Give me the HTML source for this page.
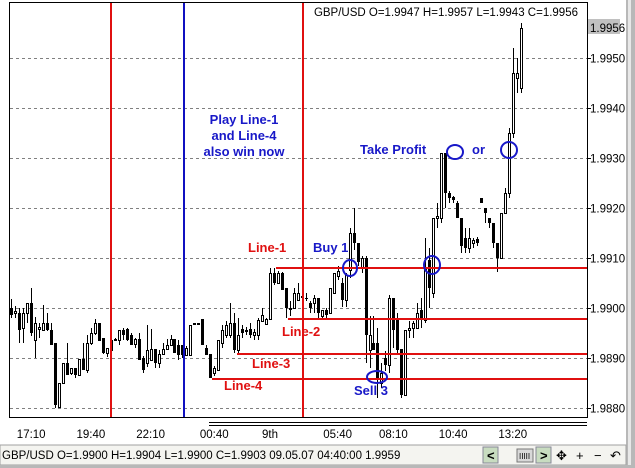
<!DOCTYPE html>
<html><head><meta charset="utf-8"><style>
html,body{margin:0;padding:0;background:#fff;}
body{width:635px;height:468px;overflow:hidden;position:relative;font-family:"Liberation Sans",sans-serif;}
svg{position:absolute;left:0;top:0;}
</style></head><body>
<svg id="chart" width="635" height="468" viewBox="0 0 635 468" xmlns="http://www.w3.org/2000/svg" font-family="Liberation Sans, sans-serif">
<rect x="0" y="0" width="635" height="468" fill="#fff"/>
<g id="grid"></g>
<g id="candles" shape-rendering="crispEdges"></g>
<g id="lines">
<line x1="111" y1="3" x2="111" y2="417" stroke="#e01010" stroke-width="2"/>
<line x1="184" y1="3" x2="184" y2="417" stroke="#1010c0" stroke-width="2"/>
<line x1="303" y1="3" x2="303" y2="417" stroke="#e01010" stroke-width="2"/>
<line x1="276" y1="268" x2="587" y2="268" stroke="#e01010" stroke-width="2"/>
<line x1="288" y1="319" x2="587" y2="319" stroke="#e01010" stroke-width="2"/>
<line x1="237" y1="354" x2="587" y2="354" stroke="#e01010" stroke-width="2"/>
<line x1="212" y1="379" x2="587" y2="379" stroke="#e01010" stroke-width="2"/>
</g>
<g fill="#e01010" font-weight="bold" font-size="13">
<text x="248" y="252">Line-1</text>
<text x="282" y="336">Line-2</text>
<text x="252" y="368">Line-3</text>
<text x="224" y="390">Line-4</text>
</g>
<g fill="#1818c8" font-weight="bold" font-size="13">
<text x="244" y="124" text-anchor="middle">Play Line-1</text>
<text x="244" y="140" text-anchor="middle">and Line-4</text>
<text x="244" y="156" text-anchor="middle">also win now</text>
<text x="360" y="154">Take Profit</text>
<text x="472" y="154">or</text>
<text x="313" y="252">Buy 1</text>
<text x="354" y="395">Sell 3</text>
</g>
<g fill="none" stroke="#1818c8" stroke-width="2">
<ellipse cx="455" cy="152" rx="8" ry="7"/>
<ellipse cx="509" cy="150" rx="8" ry="8"/>
<ellipse cx="350" cy="268" rx="7" ry="8"/>
<ellipse cx="432" cy="265" rx="8" ry="9"/>
<ellipse cx="377" cy="377" rx="10" ry="6"/>
</g>
<g stroke="#000" stroke-width="1" fill="none" shape-rendering="crispEdges">
<line x1="9.5" y1="2" x2="9.5" y2="417"/>
<line x1="9" y1="2.5" x2="587" y2="2.5"/>
<line x1="9" y1="417.5" x2="587" y2="417.5"/>
<line x1="587.5" y1="2" x2="587.5" y2="418"/>
<line x1="209" y1="422.5" x2="587" y2="422.5"/>
<line x1="209" y1="425.5" x2="587" y2="425.5"/>
</g>
<text x="578" y="16" text-anchor="end" font-size="11.5" fill="#000">GBP/USD O=1.9947 H=1.9957 L=1.9943 C=1.9956</text>
<rect x="588" y="19" width="32" height="15" fill="#c0c0c0"/>
<g id="yaxis" font-size="11.5" fill="#000"></g>
<g id="xaxis" font-size="11.5" fill="#000"></g>
<rect x="626" y="0" width="9" height="468" fill="#b8b8b8"/>
<rect x="628" y="0" width="3" height="468" fill="#e8e8e8"/>
<rect x="0" y="445" width="626" height="20" fill="#f4f4f0" stroke="#a0a0a0" stroke-width="1"/>
<rect x="0" y="465" width="635" height="3" fill="#b8b8b8"/>
<text x="2" y="459" font-size="11.5" fill="#000">GBP/USD O=1.9900 H=1.9904 L=1.9900 C=1.9903   09.05.07 04:40:00 1.9959</text>
<g font-size="13" fill="#000">
<rect x="483" y="447" width="15" height="16" fill="#c8dcc0" stroke="#889"/>
<text x="487" y="460" font-weight="bold">&lt;</text>
<rect x="517" y="449" width="16" height="13" fill="#d8d8d8" stroke="#777"/>
<text x="519" y="459" font-size="8">IIIII</text>
<rect x="536" y="447" width="15" height="16" fill="#c8dcc0" stroke="#889"/>
<text x="540" y="460" font-weight="bold">&gt;</text>
<text x="556" y="460">✥</text>
<text x="576" y="460">+</text>
<text x="594" y="460">−</text>
<text x="610" y="460">↶</text>
</g>
</svg>
<script>
const BASE = 1.9900;
const opens = [0,-1,-1,-4,-1,1,-6.4,-4.2,-4.4,-3,-4.4,-7,-19.8,-15,-11,-13,-12,-13.4,-10.2,-12.4,-7,-5,-3,-6,-9,-8.4,-6.4,-6.4,-4.4,-4.2,-5.4,-7.2,-6.2,-10,-11,-10.4,-8.2,-11,-9.2,-8.2,-7.4,-6.2,-7.4,-7.4,-9.4,-9.4,-3.2,-3.2,-2.2,-8,-9.2,-13,-12.4,-7,-5.4,-5.4,-3,-8.4,-4.2,-4.6,-4.2,-5.4,-5.4,-2.6,-3.2,-2.2,7,5,7,4,0,0,1.6,2.2,2,1,1,2,-1.6,-0.4,-1,3,6.4,5,1.6,7.6,15,13,8,10,-8.4,-7,-7,-15,-10,-11.4,2,-2.4,-8.2,-17.4,-4.4,-4,-4,-0.4,-2.4,9.6,3,18,18,31,23,22.2,21,18,14,12,13,13.8,22,20,18,17,13,10,19,23,35,46,44];
const highs = [1.9,0.4,0,0,1,4,-1.8,-3,0.6,-1,-3,-7,-15,-11,-7,-12,-12,-10.2,-7,-5.4,-4,-2.2,-3,-6,-8,-5.4,-6,-4.4,-4,-4,-5,-6,-5,-9.6,-3.4,-4.2,-8.2,-8.4,-7,-6.2,-5.4,-6.2,-6.4,-7.4,-7.6,-3.4,-3,-3,-2.2,-7.4,-9.2,-11.6,-6.4,-3.4,-2.6,1,-1,-2,-3.4,-3.8,-3,-4.2,-2,0,-2,8,8,7.4,7.2,4,1.4,4,5,4,3,1.4,2.6,2,-0.4,0,4,7,8.4,6,7,16,20,13,10.4,10.4,-1.6,-1.6,-4,-11,-8.6,2.6,2,-1,-8.2,-4.4,-2.6,-2.6,1,2,14,12,18,21,31,31,23.4,22.4,21.4,18,16,16,14,14.2,22,20,18,17,13,19,24,36,52,50,57];
const lows = [-2,-2,-7,-7,-3,-5.5,-10,-6,-4.6,-4.6,-7.4,-20,-20,-15,-13.4,-13.4,-14,-13.4,-12.4,-13,-7.4,-5.4,-6.7,-9.2,-9.8,-8.4,-6.6,-7.4,-6.4,-6.6,-7.4,-8,-10.4,-13,-11.8,-10.4,-12,-12,-9.4,-8.4,-7.4,-9,-10.4,-10,-9.4,-9.4,-3.2,-3.2,-7.4,-9.4,-14,-13.6,-12.4,-8,-6,-6,-9,-9,-6,-5.4,-6,-6.4,-6.4,-2.6,-3.4,-2.2,4.6,5,3.6,-2,-1.6,0,1.6,1.4,1.4,-1,-1,-2,-2.4,-2,-1,3,5.6,0.2,0.2,6,11.6,8.4,7,-11,-12,-8.4,-18,-16,-12.6,-13,-8,-9,-18,-17.6,-6,-6,-4,-4,-3,0,2,16,17,20,21,21,18,11,11,11,12,12.4,21,17,16,12,7.2,10,19,22,34,43,43];
const closes = [-1.4,-0.6,-4.4,-1,1,-5,-3,-3.8,-3,-4.4,-7.4,-19.4,-15,-11,-13.4,-12,-13.4,-10.2,-12.4,-7,-5,-3,-6.7,-9,-8,-6.4,-6.2,-4.4,-5.4,-6.4,-7.4,-6.2,-10.4,-12.4,-8.4,-8.2,-11,-9.2,-8.2,-7.4,-6.2,-9,-9.4,-9.4,-8,-3.4,-3,-3,-7.4,-9.4,-14,-12,-6.4,-4.4,-3.4,-3,-8.4,-5.4,-5,-4.4,-5.4,-4.8,-2.4,-1.4,-2.2,7,5,7,3.6,0,-0.4,3,3,2.4,1.8,0,2,-1,-0.4,-1.4,4,7,7.4,1.6,6.6,15,13,9.2,10,-5.4,-5.4,-8.4,-14.4,-13,-11.4,2,-4.4,-8.4,-17.4,-4.4,-4,-3,-1,-2.4,8.2,4,18,18.4,31,23,22,21.6,18,12.4,12,14,13.6,13,21,19,17,13,10,19,23,35,47,47,56];
const priceTicks = [1.9950,1.9940,1.9930,1.9920,1.9910,1.9900,1.9890,1.9880];
const currentPrice = 1.9956;
const timeLabels = ["17:10","19:40","22:10","00:40","9th","05:40","08:10","10:40","13:20"];
const timeLabelIdx = [5,20,35,51,65,82,96,111,126];

const NS = "http://www.w3.org/2000/svg";
function yScale(p){ return 308 - (p - 1.99) * 50000; }
function xScale(i){ return 11.3 + i * 3.98; }
function pip(v){ return BASE + v * 0.0001; }
function mk(tag, attrs, parent){ const e = document.createElementNS(NS, tag); for (const k in attrs) e.setAttribute(k, attrs[k]); parent.appendChild(e); return e; }

const grid = document.getElementById('grid');
const yaxis = document.getElementById('yaxis');
priceTicks.forEach(function(t){
  const y = Math.round(yScale(t)) + 0.5;
  const gl = mk('line', {x1:10, y1:y, x2:587, y2:y, stroke:'#808080', 'stroke-dasharray':'3,3', 'stroke-width':1}, grid);
  
  
  const tk = mk('line', {x1:587, y1:y, x2:591, y2:y, stroke:'#000'}, yaxis);
  
  
  const tx = mk('text', {x:590, y:y + 4}, yaxis);
  tx.textContent = t.toFixed(4);
  
  
});
const cp = mk('text', {x:590, y:yScale(currentPrice) + 4}, yaxis);
cp.textContent = currentPrice.toFixed(4);



const xaxis = document.getElementById('xaxis');
timeLabels.forEach(function(l, k){
  const t = mk('text', {x:xScale(timeLabelIdx[k]), y:438, 'text-anchor':'middle'}, xaxis);
  t.textContent = l;
  
  
});

const cg = document.getElementById('candles');
for (let i = 0; i < opens.length; i++){
  const x = Math.round(xScale(i));
  const o = pip(opens[i]), h = pip(highs[i]), l = pip(lows[i]), c = pip(closes[i]);
  const g = mk('g', {}, cg);
  
  
  mk('rect', {x:x, y:Math.round(yScale(h)), width:1, height:Math.max(1, Math.round(yScale(l)) - Math.round(yScale(h))), fill:'#000'}, g);
  const top = Math.round(yScale(Math.max(o, c))), bot = Math.round(yScale(Math.min(o, c)));
  const bear = c < o;
  if (bear) {
    mk('rect', {x:x - 1, y:top, width:3, height:Math.max(1, bot - top), fill:'#000'}, g);
  } else {
    mk('rect', {x:x - 0.5, y:top + 0.5, width:2, height:Math.max(1, bot - top), fill:'#fff', stroke:'#000', 'stroke-width':1}, g);
  }
}
</script>
</body></html>
